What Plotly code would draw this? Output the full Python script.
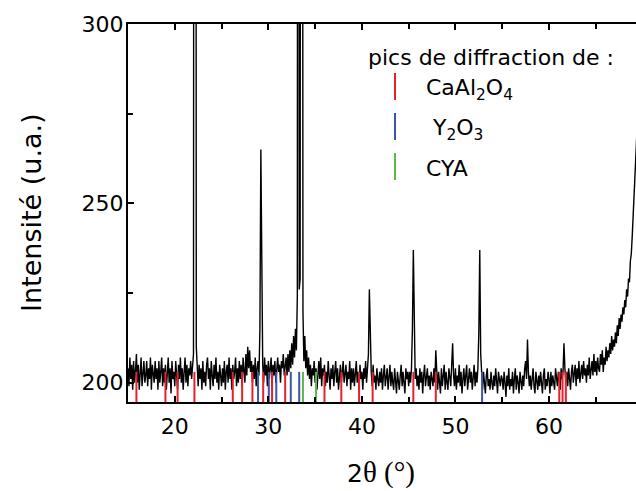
import plotly.graph_objects as go

# ---------------- data ----------------
two_theta_start = 15.0
two_theta_step = 0.1
intensity = [
    204, 199, 207, 201, 205, 198, 206, 200, 203, 208,   # 15
    200, 205, 198, 204, 207, 199, 203, 206, 200, 202,   # 16
    206, 199, 204, 201, 207, 198, 205, 202, 200, 206,   # 17
    201, 204, 198, 206, 200, 203, 207, 199, 204, 200,   # 18
    205, 198, 203, 207, 200, 204, 197, 206, 201, 203,   # 19
    199, 206, 202, 198, 205, 201, 207, 200, 204, 198,   # 20
    203, 207, 200, 205, 199, 204, 202, 206, 201, 205,   # 21
    208, 800, 800, 210, 203, 199, 205, 201, 204, 198,   # 22
    206, 200, 203, 199, 205, 207, 201, 204, 198, 206,   # 23
    202, 199, 205, 201, 207, 200, 203, 198, 205, 202,   # 24
    199, 204, 200, 206, 198, 203, 205, 200, 207, 201,   # 25
    204, 198, 205, 201, 203, 207, 199, 204, 200, 206,   # 26
    201, 205, 199, 207, 203, 200, 208, 202, 210, 204,   # 27
    209, 203, 206, 200, 205, 201, 207, 199, 204, 206,   # 28
    202, 215, 265, 218, 205, 200, 207, 202, 205, 199,   # 29
    206, 201, 204, 207, 199, 205, 202, 206, 200, 204,   # 30
    207, 203, 205, 200, 206, 204, 208, 202, 205, 207,   # 31
    202, 208, 203, 209, 204, 211, 205, 213, 207, 215,   # 32
    209, 224, 900, 226, 229, 700, 700, 220, 206, 213,   # 33
    204, 209, 202, 207, 201, 205, 199, 204, 202, 206,   # 34
    200, 204, 198, 203, 206, 201, 207, 199, 204, 202,   # 35
    205, 199, 203, 200, 206, 202, 198, 204, 201, 205,   # 36
    199, 203, 206, 200, 204, 198, 202, 205, 200, 203,   # 37
    206, 200, 202, 205, 199, 203, 201, 206, 198, 204,   # 38
    200, 204, 199, 202, 206, 200, 203, 198, 205, 201,   # 39
    203, 198, 204, 201, 206, 200, 204, 208, 226, 210,   # 40
    203, 199, 205, 200, 202, 198, 204, 201, 199, 203,   # 41
    200, 204, 198, 202, 205, 199, 201, 204, 198, 202,   # 42
    205, 199, 203, 200, 198, 204, 201, 197, 203, 200,   # 43
    198, 202, 205, 199, 203, 200, 197, 204, 201, 203,   # 44
    199, 203, 200, 204, 215, 237, 209, 201, 204, 199,   # 45
    202, 198, 204, 200, 203, 197, 202, 205, 199, 201,   # 46
    204, 199, 202, 198, 203, 201, 199, 204, 200, 209,   # 47
    201, 198, 203, 200, 197, 204, 199, 202, 205, 198,   # 48
    203, 200, 198, 204, 201, 199, 205, 211, 202, 199,   # 49
    204, 198, 202, 200, 205, 199, 203, 197, 201, 204,   # 50
    199, 202, 205, 198, 201, 204, 200, 203, 198, 202,   # 51
    205, 199, 203, 200, 204, 214, 237, 208, 201, 198,   # 52
    203, 200, 197, 202, 204, 199, 201, 198, 203, 200,   # 53
    198, 202, 199, 204, 200, 197, 203, 201, 199, 202,   # 54
    201, 198, 203, 200, 196, 202, 199, 204, 198, 201,   # 55
    199, 203, 197, 201, 204, 198, 202, 200, 197, 203,   # 56
    200, 198, 202, 199, 204, 206, 201, 212, 203, 199,   # 57
    202, 198, 201, 204, 199, 197, 203, 200, 198, 202,   # 58
    199, 203, 200, 197, 202, 204, 198, 201, 199, 203,   # 59
    201, 197, 203, 199, 202, 200, 198, 204, 201, 199,   # 60
    203, 200, 198, 204, 201, 203, 211, 204, 200, 203,   # 61
    199, 204, 201, 198, 203, 205, 200, 202, 205, 199,   # 62
    204, 201, 206, 200, 203, 205, 201, 206, 202, 204,   # 63
    200, 205, 202, 207, 201, 204, 206, 202, 208, 203,   # 64
    206, 202, 207, 204, 203, 208, 205, 209, 203, 207,   # 65
    205, 210, 206, 209, 207, 211, 208, 213, 209, 212,   # 66
    210, 214, 211, 216, 213, 218, 215, 219, 217, 221,   # 67
    219, 223, 221, 226, 224, 229, 228, 234, 236, 241,   # 68
    246, 251, 258, 264, 270, 276,                       # 69
]
two_theta = [round(two_theta_start + i * two_theta_step, 2) for i in range(len(intensity))]

caal2o4_peaks = [15.9, 19.0, 20.3, 22.1, 26.2, 27.2, 28.3, 29.45, 30.4, 31.8,
                 36.0, 37.8, 39.7, 41.15, 45.5, 47.9, 61.1, 61.45, 61.8]
y2o3_peaks = [28.9, 30.05, 30.85, 32.4, 33.3, 52.85]
cya_peaks = [33.7, 35.1]

x_range = [15, 69.3]
y_range = [194.6, 300]
ref_top = 203          # top of the reference-line sticks

x_ticks = [20, 30, 40, 50, 60]
y_ticks = [200, 250, 300]

RED, BLUE, GREEN = "#e8202a", "#3a56a8", "#5cb847"

# ---------------- figure ----------------
W, H = 636, 491
ML, MR, MT, MB = 128, 0, 24, 89
PW, PH = W - ML - MR, H - MT - MB


def px(xp):
    return (xp - ML) / PW


def py(yp):
    return (H - MB - yp) / PH


def sticks(pos):
    xs, ys = [], []
    for p in pos:
        xs += [p, p, None]
        ys += [y_range[0] - 2, ref_top, None]
    return xs, ys


fig = go.Figure()
fig.add_trace(go.Scatter(x=two_theta, y=intensity, mode="lines",
                         line=dict(color="black", width=1.4), showlegend=False))
for pos, col, name in [(caal2o4_peaks, RED, "CaAl2O4"),
                       (y2o3_peaks, BLUE, "Y2O3"),
                       (cya_peaks, GREEN, "CYA")]:
    xs, ys = sticks(pos)
    fig.add_trace(go.Scatter(x=xs, y=ys, mode="lines", name=name,
                             line=dict(color=col, width=2), showlegend=False))

FONT = "DejaVu Sans"
axis_common = dict(showline=True, linecolor="black", linewidth=2,
                   ticks="inside", tickcolor="black", tickwidth=2, ticklen=6,
                   showgrid=False, zeroline=False,
                   tickfont=dict(family=FONT, size=22, color="black"))

fig.update_xaxes(range=x_range, tickvals=x_ticks, mirror="ticks",
                 minor=dict(dtick=5, tick0=0, ticks="inside", ticklen=5,
                            tickwidth=2, tickcolor="black", showgrid=False),
                 ticklabelstandoff=4, **axis_common)
fig.update_yaxes(range=y_range, tickvals=y_ticks, mirror=False,
                 minor=dict(dtick=25, tick0=0, ticks="inside", ticklen=5,
                            tickwidth=2, tickcolor="black", showgrid=False),
                 ticklabelstandoff=-2, **axis_common)

annotations = [
    dict(text="Intensité (u.a.)", x=px(31), y=0.5, xref="paper", yref="paper",
         textangle=-90, showarrow=False, xanchor="center", yanchor="middle",
         font=dict(family=FONT, size=27, color="black")),
    dict(text="2<span style=\"font-family:'Liberation Serif';font-size:29px\">θ (°)</span>",
         x=px(381), y=py(472), xref="paper", yref="paper", showarrow=False,
         xanchor="center", yanchor="middle",
         font=dict(family=FONT, size=25, color="black")),
    dict(text="pics de diffraction de :", x=px(366), y=py(57), xref="paper",
         yref="paper", showarrow=False, xanchor="left", yanchor="middle",
         font=dict(family=FONT, size=22, color="black")),
    dict(text="CaAl<sub>2</sub>O<sub>4</sub>", x=px(424), y=py(89), xref="paper",
         yref="paper", showarrow=False, xanchor="left", yanchor="middle",
         font=dict(family=FONT, size=22, color="black")),
    dict(text="Y<sub>2</sub>O<sub>3</sub>", x=px(430), y=py(129), xref="paper",
         yref="paper", showarrow=False, xanchor="left", yanchor="middle",
         font=dict(family=FONT, size=22, color="black")),
    dict(text="CYA", x=px(424), y=py(168), xref="paper",
         yref="paper", showarrow=False, xanchor="left", yanchor="middle",
         font=dict(family=FONT, size=22, color="black")),
]

shapes = []
for col, y0, y1 in [(RED, 73, 100), (BLUE, 113, 140), (GREEN, 153, 180)]:
    shapes.append(dict(type="line", xref="paper", yref="paper",
                       x0=px(395), x1=px(395), y0=py(y0), y1=py(y1),
                       line=dict(color=col, width=2)))

fig.update_layout(width=W, height=H, margin=dict(l=ML, r=MR, t=MT, b=MB),
                  paper_bgcolor="white", plot_bgcolor="white",
                  showlegend=False, annotations=annotations, shapes=shapes)

fig.write_html("out.html", config={"displayModeBar": False},
               post_script="document.body.style.margin='0px';document.body.style.padding='0px';")
